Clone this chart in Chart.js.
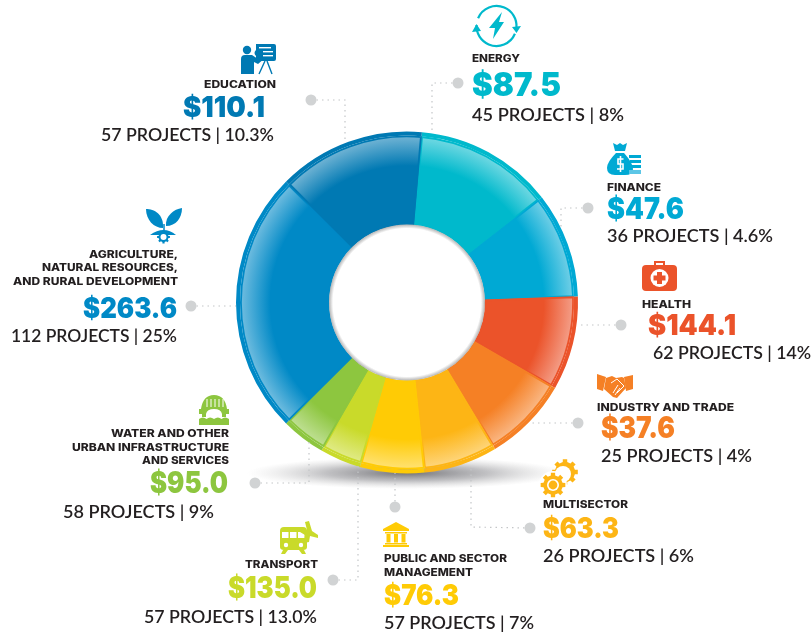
<!DOCTYPE html>
<html>
<head>
<meta charset="utf-8">
<title>Projects by sector</title>
<script src="https://cdn.jsdelivr.net/npm/chart.js@4"></script>
<style>
  html, body { margin: 0; padding: 0; background: #fff; }
  #wrap { position: relative; width: 812px; height: 636px; overflow: hidden; }
</style>
</head>
<body>
<div id="wrap"><canvas id="sectorChart" width="812" height="636"></canvas></div>
<script>
// ---- data, clockwise from the top of the ring ----
var sectors = ["Energy", "Finance", "Health", "Industry and Trade", "Multisector",
  "Public and Sector Management", "Transport", "Water and Other Urban Infrastructure and Services",
  "Agriculture, Natural Resources, and Rural Development", "Education"];
// degrees of arc (the drawn slices do not follow the printed amounts)
var arcDegrees = [47, 36, 32, 29, 25, 22, 14, 15, 90, 50];
var amounts = ["$87.5", "$47.6", "$144.1", "$37.6", "$63.3", "$76.3", "$135.0", "$95.0", "$263.6", "$110.1"];
var projects = ["45 PROJECTS | 8%", "36 PROJECTS | 4.6%", "62 PROJECTS | 14%", "25 PROJECTS | 4%",
  "26 PROJECTS | 6%", "57 PROJECTS | 7%", "57 PROJECTS | 13.0%", "58 PROJECTS | 9%",
  "112 PROJECTS | 25%", "57 PROJECTS | 10.3%"];
var titles = [["ENERGY"], ["FINANCE"], ["HEALTH"], ["INDUSTRY AND TRADE"], ["MULTISECTOR"],
  ["PUBLIC AND SECTOR", "MANAGEMENT"], ["TRANSPORT"], ["WATER AND OTHER", "URBAN INFRASTRUCTURE", "AND SERVICES"],
  ["AGRICULTURE,", "NATURAL RESOURCES,", "AND RURAL DEVELOPMENT"], ["EDUCATION"]];
var colors = ["#00b9cc", "#00a9d4", "#eb532a", "#f58025", "#fdb515", "#ffcb05", "#c9da2a", "#8dc63f", "#0089c6", "#0079b3"];

// ---- ring geometry and label layout (canvas pixels) ----
var cx = 407, cy = 302.5, outerR = 171, innerR = 78, rimW = 4;
var inkColor = "#231f20", dotColor = "#d1d3d4";
// tw/aw/pw are the text widths measured on the picture, as = amount font size
var layout = [
  { a: "left",  tx: 472, ty: [62],            tw: [48],           ax: 472, ay: 96,  aw: 89, as: 33, px: 472, py: 121, pw: 152 },
  { a: "left",  tx: 607, ty: [191],           tw: [54],           ax: 607, ay: 219, aw: 77, as: 30, px: 607, py: 242, pw: 166 },
  { a: "left",  tx: 642, ty: [308],           tw: [49],           ax: 648, ay: 335, aw: 88, as: 29, px: 653, py: 359, pw: 158 },
  { a: "left",  tx: 597, ty: [411],           tw: [137],          ax: 601, ay: 438, aw: 74, as: 30, px: 601, py: 462, pw: 151 },
  { a: "left",  tx: 543, ty: [508],           tw: [85],           ax: 543, ay: 538, aw: 76, as: 28, px: 543, py: 562, pw: 151 },
  { a: "left",  tx: 384, ty: [562, 576],      tw: [123, 89],      ax: 384, ay: 605, aw: 75, as: 29, px: 384, py: 629, pw: 150 },
  { a: "right", tx: 318, ty: [568],           tw: [73],           ax: 317, ay: 598, aw: 89, as: 30, px: 317, py: 623, pw: 173 },
  { a: "right", tx: 229, ty: [437, 451, 464], tw: [118, 157, 87], ax: 228, ay: 493, aw: 78, as: 30, px: 214, py: 518, pw: 151 },
  { a: "right", tx: 178, ty: [258, 271, 285], tw: [89, 136, 165], ax: 177, ay: 318, aw: 94, as: 28, px: 177, py: 342, pw: 166 },
  { a: "right", tx: 276, ty: [88],            tw: [72],           ax: 265, ay: 117, aw: 82, as: 29, px: 274, py: 141, pw: 173 }
];
// leader lines: first point is the grey dot
var leaders = [
  [[458, 83], [432, 83], [432, 132]],
  [[588, 208], [561, 208], [561, 230]],
  [[621, 325], [578, 325]],
  [[578, 423], [532, 423]],
  [[530, 528], [471, 527], [471, 466]],
  [[395, 507], [395, 473]],
  [[333, 580], [358, 580], [358, 466]],
  [[255, 483], [309, 483], [309, 441]],
  [[191, 306], [236, 306]],
  [[311, 100], [345, 100], [345, 140]]
];

function rimGradient(context) {
  var base = colors[context.dataIndex];
  var chart = context.chart;
  if (!chart.chartArea || context.dataIndex === undefined) return base;
  var g = chart.ctx.createRadialGradient(cx, cy, innerR, cx, cy, outerR - rimW);
  g.addColorStop(0, base);
  g.addColorStop(0.66, base);
  g.addColorStop(1, Chart.helpers.color(base).mix(Chart.helpers.color("#ffffff"), 0.55).rgbString());
  return g;
}

// draws text squeezed or stretched to the width it has on the picture
function fitText(c, text, x, y, width, align) {
  var w = c.measureText(text).width;
  c.save();
  c.translate(x, y);
  c.scale(width / w, 1);
  c.textAlign = align;
  c.fillText(text, 0, 0);
  c.restore();
}

// ---- icons, drawn in pixels from their top left corner ----
function gear(c, x, y, r, teeth, color) {
  c.fillStyle = color;
  c.beginPath();
  for (var i = 0; i < teeth * 2; i++) {
    var a0 = i * Math.PI / teeth - 0.17, a1 = i * Math.PI / teeth + 0.17;
    var rr = i % 2 ? r * 0.78 : r;
    c.lineTo(x + rr * Math.cos(a0), y + rr * Math.sin(a0));
    c.lineTo(x + rr * Math.cos(a1), y + rr * Math.sin(a1));
  }
  c.closePath();
  c.fill();
}
function fillP(c, d, color, rule) {
  c.fillStyle = color;
  c.fill(new Path2D(d), rule || "nonzero");
}
var icons = [
  function (c, col) { // energy
    c.strokeStyle = col; c.lineWidth = 2.2;
    c.beginPath(); c.arc(24.5, 21, 20, 0.4, Math.PI + 0.05); c.stroke();
    c.beginPath(); c.arc(24.5, 21, 20, Math.PI + 0.4, 0.05); c.stroke();
    fillP(c, "M30 7 L17 23 L23 23 L21 34 L32 17 L27 17 Z", col);
    fillP(c, "M40 22 L49 21 L44.5 28 Z M0 27 L9 26 L4.5 19 Z", col);
  },
  function (c, col) { // finance
    fillP(c, "M6 0 L10 2 L13 0 L16 2 L20 0 L18 8 L8 8 Z", col);
    fillP(c, "M9 10 H17 Q26 20 26 26 Q26 32 18 32 H8 Q0 32 0 25 Q0 19 9 10 Z", col);
    c.strokeStyle = "#fff"; c.lineWidth = 1.6;
    c.beginPath(); c.moveTo(16.5, 16); c.lineTo(11, 16); c.lineTo(11, 21); c.lineTo(16, 21); c.lineTo(16, 26); c.lineTo(10, 26);
    c.moveTo(13.5, 13); c.lineTo(13.5, 29); c.stroke();
    c.fillStyle = col;
    c.fillRect(22, 12, 12, 3); c.fillRect(23, 17, 11, 3); c.fillRect(25, 22, 9, 3);
    c.fillStyle = "#5cc6e6"; c.fillRect(22, 27, 12, 4);
  },
  function (c, col) { // health
    fillP(c, "M12 5 V0 H23 V5 H21 V2 H14 V5 Z", col);
    fillP(c, "M4 4 H31 Q35 4 35 8 V26 Q35 30 31 30 H4 Q0 30 0 26 V8 Q0 4 4 4 Z", col);
    c.fillStyle = "#fff"; c.beginPath(); c.arc(17.5, 17, 9, 0, 7); c.fill();
    fillP(c, "M15 11 H20 V14.5 H23.5 V19.5 H20 V23 H15 V19.5 H11.5 V14.5 H15 Z", col);
  },
  function (c, col) { // industry
    fillP(c, "M0 1 L9 4 L6 18 L0 16 Z M36 2 L27 4 L29 18 L36 16 Z", col);
    fillP(c, "M9 5 L15 3 L19 5 L25 4 L27 5 L29 15 L20 25 L16 24 L7 16 Z", col);
    c.strokeStyle = "#fff"; c.lineWidth = 1;
    c.beginPath(); c.moveTo(14, 10); c.lineTo(20, 6); c.lineTo(27, 13); c.lineTo(20, 20);
    c.moveTo(21, 12); c.lineTo(16, 20); c.moveTo(23, 15); c.lineTo(18, 22); c.stroke();
  },
  function (c, col) { // multisector
    gear(c, 24, 12, 13, 8, col);
    c.fillStyle = "#fff"; c.beginPath(); c.arc(22, 14, 8, 0, 7); c.fill();
    c.beginPath(); c.arc(12, 25, 14, 0, 7); c.fill();
    gear(c, 12, 25, 12.5, 8, col);
    c.fillStyle = "#fff"; c.beginPath(); c.arc(12, 25, 6, 0, 7); c.fill();
    c.fillStyle = col; c.beginPath(); c.arc(12, 25, 4.4, 0, 7); c.fill();
  },
  function (c, col) { // public
    fillP(c, "M13 0 L26 7 V9 H0 V7 Z", col);
    c.fillStyle = col;
    c.fillRect(2, 10, 22, 1.5);
    c.fillRect(3.5, 12, 4, 8.5); c.fillRect(11, 12, 4, 8.5); c.fillRect(18.5, 12, 4, 8.5);
    c.fillRect(2, 21, 22, 1.5); c.fillRect(0, 23, 26, 2);
  },
  function (c, col) { // transport
    fillP(c, "M5 6 H24 Q28 6 28 10 V26 Q28 29 24 29 H5 Q1 29 1 26 V10 Q1 6 5 6 Z", col);
    c.fillStyle = "#fff";
    c.fillRect(3, 11, 6.5, 6); c.fillRect(11, 11, 6.5, 6); c.fillRect(19, 11, 6.5, 6);
    c.beginPath(); c.arc(7, 24, 2.2, 0, 7); c.arc(22, 24, 2.2, 0, 7); c.fill();
    fillP(c, "M4 29 H9 L6 33 H2 Z M20 29 H25 L27 33 H23 Z", col);
    fillP(c, "M26 1 L30 0 L33 10 L39 14 L39 17 L31 15 L30 21 L25 22 L26 14 L21 11 L23 8 L28 9 Z", col);
  },
  function (c, col) { // water
    fillP(c, "M15 0 Q26 0 28 14 H30 V19 H23 Q22 14 15 14 Q8 14 7 19 H0 V14 H2 Q4 0 15 0 Z", col);
    c.strokeStyle = "#fff"; c.lineWidth = 1;
    c.beginPath();
    [8, 12, 16, 20, 24].forEach(function (x) { c.moveTo(x, 4); c.lineTo(x, 12); });
    c.stroke();
    c.fillStyle = col; c.fillRect(3, 19, 4, 3); c.fillRect(23, 19, 4, 3);
    fillP(c, "M0 24 Q4 21 7.5 24 Q11 21 15 24 Q19 21 22.5 24 Q26 21 30 24 V30 H0 Z", col);
  },
  function (c, col) { // agriculture
    fillP(c, "M17 20 C8 20 0 12 0 1 C8 1 18 6 17 20 Z", col);
    fillP(c, "M20 18 C19 8 28 1 36 0 C36 10 30 18 20 18 Z", col);
    c.strokeStyle = col; c.lineWidth = 1.5;
    c.beginPath(); c.moveTo(18, 24); c.lineTo(18, 16); c.stroke();
    fillP(c, "M4 27 Q18 17 30 27 Z", col);
    gear(c, 17.5, 29, 6.5, 8, col);
    c.fillStyle = "#fff"; c.beginPath(); c.arc(17.5, 29, 3, 0, 7); c.fill();
  },
  function (c, col) { // education
    c.fillStyle = col; c.beginPath(); c.arc(6, 6, 4.2, 0, 7); c.fill();
    fillP(c, "M0 30 V15 Q0 11 4 11 H11 L17 15 L23 11 L24 14 L17 20 L13 18 V30 Z", col);
    fillP(c, "M15 0 H33 Q35 0 35 2 V15 Q35 17 33 17 H15 V12 Q12 9 15 6 Z", col);
    c.fillStyle = "#fff";
    c.fillRect(18, 3, 12, 1.4); c.fillRect(22, 7, 10, 1.4); c.fillRect(22, 11, 10, 1.4);
    c.strokeStyle = col; c.lineWidth = 1.4;
    c.beginPath(); c.moveTo(24, 17); c.lineTo(18, 30); c.moveTo(26, 17); c.lineTo(31, 30); c.stroke();
  }
];
var iconPos = [[472, 5], [607, 143], [642, 261], [597, 373], [541, 460], [383, 522], [279, 521], [199, 395], [146, 208], [241, 44]];

var groundShadow = {
  id: "groundShadow",
  beforeDatasetsDraw: function (chart) {
    var c = chart.ctx;
    c.save();
    c.translate(cx, 473);
    c.scale(1, 0.1);
    var g = c.createRadialGradient(0, 0, 0, 0, 0, 160);
    g.addColorStop(0, "rgba(90,90,95,0.85)");
    g.addColorStop(0.5, "rgba(130,130,135,0.5)");
    g.addColorStop(1, "rgba(190,190,190,0)");
    c.fillStyle = g;
    c.beginPath(); c.arc(0, 0, 160, 0, Math.PI * 2); c.fill();
    c.restore();
  }
};

var holeAndLabels = {
  id: "holeAndLabels",
  afterDatasetsDraw: function (chart) {
    var c = chart.ctx;
    c.save();
    // soft inner shadow round the hole
    var g = c.createRadialGradient(cx, cy, innerR - 4, cx, cy, innerR);
    g.addColorStop(0, "rgba(120,120,120,0)");
    g.addColorStop(1, "rgba(120,120,120,0.55)");
    c.fillStyle = g;
    c.beginPath(); c.arc(cx, cy, innerR, 0, Math.PI * 2); c.fill();

    leaders.forEach(function (pts) {
      c.strokeStyle = "#c4c6c8"; c.lineWidth = 1.2; c.setLineDash([1.5, 4]);
      c.beginPath();
      pts.forEach(function (p, i) { if (i) c.lineTo(p[0], p[1]); else c.moveTo(p[0], p[1]); });
      c.stroke();
      c.setLineDash([]);
      c.fillStyle = dotColor;
      c.beginPath(); c.arc(pts[0][0], pts[0][1], 5.5, 0, Math.PI * 2); c.fill();
    });

    c.textBaseline = "alphabetic";
    layout.forEach(function (l, i) {
      c.fillStyle = inkColor;
      c.font = "800 10.5px Inter";
      titles[i].forEach(function (t, k) { fitText(c, t, l.tx, l.ty[k], l.tw[k], l.a); });
      c.fillStyle = colors[i];
      c.font = "900 " + l.as + "px Inter";
      fitText(c, amounts[i], l.ax, l.ay, l.aw, l.a);
      c.fillStyle = inkColor;
      c.font = "600 18px Lato";
      fitText(c, projects[i], l.px, l.py, l.pw, l.a);

      c.save();
      c.translate(iconPos[i][0], iconPos[i][1]);
      icons[i](c, colors[i]);
      c.restore();
    });
    c.restore();
  }
};

document.addEventListener("DOMContentLoaded", function () {
  new Chart(document.getElementById("sectorChart"), {
    type: "doughnut",
    data: {
      labels: sectors,
      datasets: [
        { data: arcDegrees, backgroundColor: colors, borderWidth: 0, weight: rimW },
        { data: arcDegrees, backgroundColor: rimGradient, borderColor: colors, borderWidth: 1.5,
          borderAlign: "inner", weight: outerR - innerR - rimW }
      ]
    },
    options: {
      responsive: false,
      animation: false,
      rotation: 5,
      radius: outerR,
      cutout: innerR,
      layout: { padding: { left: cx - outerR, right: 812 - cx - outerR, top: cy - outerR, bottom: 636 - cy - outerR } },
      plugins: { legend: { display: false }, tooltip: { enabled: false } }
    },
    plugins: [groundShadow, holeAndLabels]
  });
});
</script>
</body>
</html>
